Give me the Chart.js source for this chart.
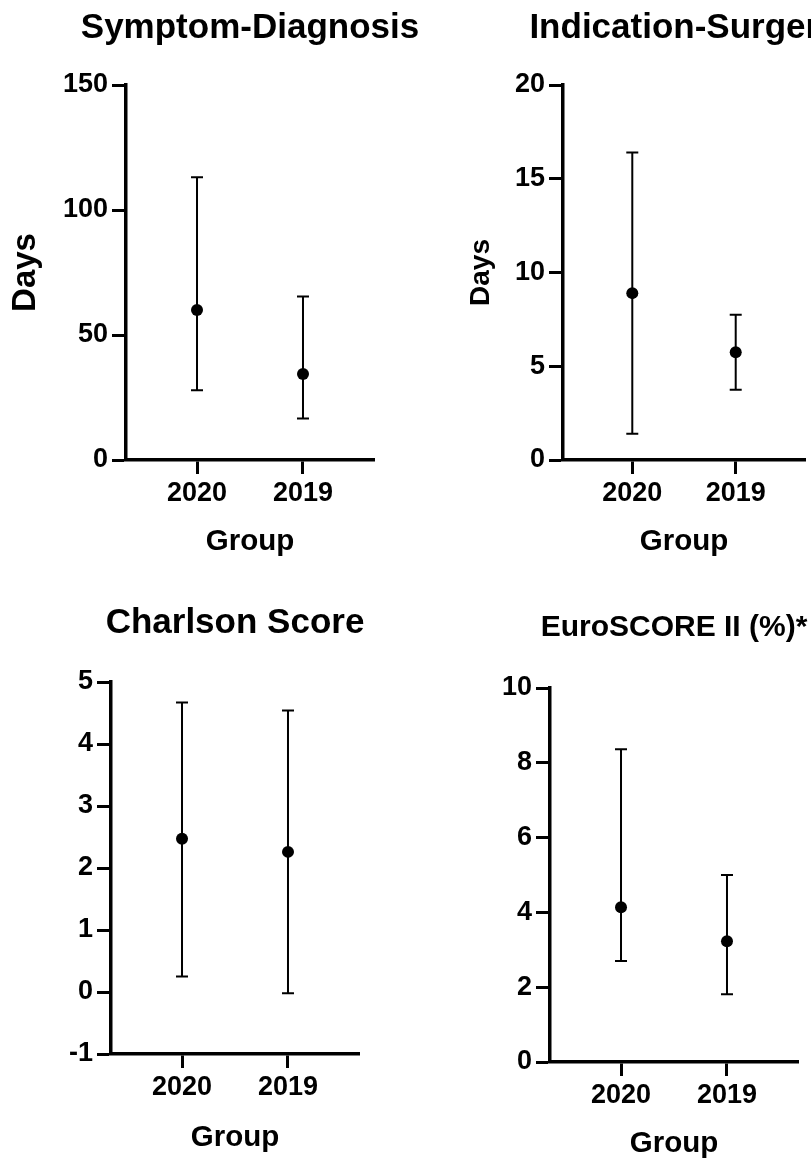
<!DOCTYPE html>
<html><head><meta charset="utf-8">
<script src="https://cdn.jsdelivr.net/npm/chart.js@4.4.1/dist/chart.umd.min.js"></script>
<style>
html,body{margin:0;padding:0;background:#fff;width:811px;height:1158px;overflow:hidden;position:relative;}
canvas{position:absolute;}
</style></head><body>
<canvas id="c1" width="440" height="560" style="left:0px;top:0px"></canvas>
<canvas id="c2" width="371" height="560" style="left:440px;top:0px"></canvas>
<canvas id="c3" width="440" height="576" style="left:0px;top:580px"></canvas>
<canvas id="c4" width="371" height="582" style="left:440px;top:580px"></canvas>
<script>
const groups = ['2020', '2019'];

// Symptom-Diagnosis (days): mean with lower / upper whisker
const symptomMean = [60.0, 34.4];
const symptomLow = [27.9, 16.6];
const symptomHigh = [113.1, 65.4];
const symptomTicks = [0, 50, 100, 150];

// Indication-Surgery (days)
const indicationMean = [8.9, 5.75];
const indicationLow = [1.4, 3.75];
const indicationHigh = [16.4, 7.75];
const indicationTicks = [0, 5, 10, 15, 20];

// Charlson Score
const charlsonMean = [2.47, 2.26];
const charlsonLow = [0.25, -0.02];
const charlsonHigh = [4.67, 4.54];
const charlsonTicks = [-1, 0, 1, 2, 3, 4, 5];

// EuroSCORE II (%)
const euroMean = [4.14, 3.23];
const euroLow = [2.70, 1.81];
const euroHigh = [8.36, 5.00];
const euroTicks = [0, 2, 4, 6, 8, 10];

const FONT = "'Liberation Sans', Arial, Helvetica, sans-serif";
Chart.defaults.font.family = FONT;
Chart.defaults.font.weight = 'bold';
Chart.defaults.color = '#000';

const errorBars = {
  id: 'errorBars',
  beforeDatasetsDraw(chart) {
    const {ctx, scales: {x, y}} = chart;
    chart.data.datasets.forEach(ds => {
      ds.data.forEach((p, i) => {
        const px = x.getPixelForValue(p.x);
        const yl = y.getPixelForValue(ds.errLow[i]);
        const yh = y.getPixelForValue(ds.errHigh[i]);
        ctx.save();
        ctx.strokeStyle = '#000';
        ctx.lineWidth = 2;
        ctx.beginPath();
        ctx.moveTo(px, yl); ctx.lineTo(px, yh);
        ctx.moveTo(px - 6, yl); ctx.lineTo(px + 6, yl);
        ctx.moveTo(px - 6, yh); ctx.lineTo(px + 6, yh);
        ctx.stroke();
        ctx.restore();
      });
    });
  }
};

const panelTitle = {
  id: 'panelTitle',
  afterDraw(chart, args, opts) {
    const {ctx, chartArea} = chart;
    ctx.save();
    ctx.font = 'bold ' + opts.size + 'px ' + FONT;
    ctx.fillStyle = '#000';
    ctx.textAlign = 'center';
    ctx.textBaseline = 'middle';
    ctx.fillText(opts.text, (chartArea.left + chartArea.right) / 2, opts.y);
    ctx.restore();
  }
};

function makePanel(id, p) {
  const yt = p.yTicks;
  new Chart(document.getElementById(id), {
    type: 'scatter',
    data: {
      datasets: [{
        data: groups.map((g, i) => ({x: i, y: p.mean[i]})),
        errLow: p.low,
        errHigh: p.high,
        pointRadius: 6,
        pointHoverRadius: 6,
        pointBackgroundColor: '#000',
        pointBorderWidth: 0,
        showLine: false
      }]
    },
    options: {
      responsive: false,
      animation: false,
      events: [],
      layout: {padding: {left: 0, top: p.padTop, right: p.padRight, bottom: 0}},
      plugins: {
        legend: {display: false},
        tooltip: {enabled: false},
        title: {display: false},
        panelTitle: {text: p.title, size: p.titleSize, y: p.titleY}
      },
      scales: {
        x: {
          type: 'linear',
          min: -0.67,
          max: 1.67,
          afterBuildTicks: s => { s.ticks = groups.map((g, i) => ({value: i})); },
          afterFit: s => { s.height = p.xHeight; },
          ticks: {
            callback: v => groups[v],
            autoSkip: false,
            maxRotation: 0,
            padding: 3,
            color: '#000',
            font: {size: 27, weight: 'bold'}
          },
          grid: {display: true, drawOnChartArea: false, drawTicks: true, tickLength: 14, tickWidth: 3, tickColor: '#000', color: '#000'},
          border: {display: true, width: 3.5, color: '#000'},
          title: {display: true, text: 'Group', color: '#000', font: {size: 29.5, weight: 'bold'}, padding: 0}
        },
        y: {
          type: 'linear',
          min: yt[0],
          max: yt[yt.length - 1],
          afterBuildTicks: s => { s.ticks = yt.map(v => ({value: v})); },
          afterFit: s => { s.width = p.yWidth; },
          ticks: {
            callback: v => String(v),
            autoSkip: false,
            padding: 4,
            color: '#000',
            font: {size: 27, weight: 'bold'}
          },
          grid: {display: true, drawOnChartArea: false, drawTicks: true, tickLength: 14, tickWidth: 3, tickColor: '#000', color: '#000'},
          border: {display: true, width: 3.5, color: '#000'},
          title: p.yTitle ? {display: true, text: p.yTitle, color: '#000', font: {size: p.yTitleSize, weight: 'bold'}, padding: {top: p.yTitlePad, bottom: 0}} : {display: false}
        }
      }
    },
    plugins: [errorBars, panelTitle]
  });
}

makePanel('c1', {
  title: 'Symptom-Diagnosis', titleSize: 35, titleY: 28,
  mean: symptomMean, low: symptomLow, high: symptomHigh, yTicks: symptomTicks,
  padTop: 85, padRight: 66, yWidth: 126, xHeight: 100,
  yTitle: 'Days', yTitleSize: 33, yTitlePad: 6
});
makePanel('c2', {
  title: 'Indication-Surgery', titleSize: 35, titleY: 28,
  mean: indicationMean, low: indicationLow, high: indicationHigh, yTicks: indicationTicks,
  padTop: 85, padRight: 0, yWidth: 123, xHeight: 100,
  yTitle: 'Days', yTitleSize: 28, yTitlePad: 24
});
makePanel('c3', {
  title: 'Charlson Score', titleSize: 35, titleY: 43,
  mean: charlsonMean, low: charlsonLow, high: charlsonHigh, yTicks: charlsonTicks,
  padTop: 102, padRight: 81, yWidth: 111, xHeight: 102,
  yTitle: null
});
makePanel('c4', {
  title: 'EuroSCORE II (%)*', titleSize: 30, titleY: 48,
  mean: euroMean, low: euroLow, high: euroHigh, yTicks: euroTicks,
  padTop: 108, padRight: 13, yWidth: 110, xHeight: 100,
  yTitle: null
});
</script>
</body></html>
